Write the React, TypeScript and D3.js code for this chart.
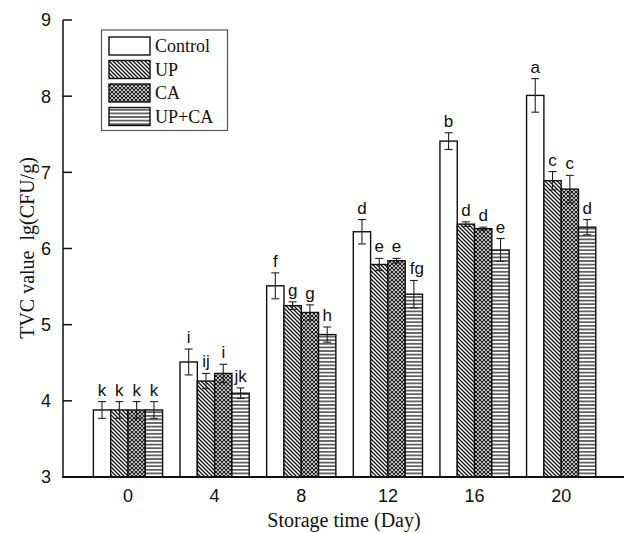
import React from "react";
import * as d3 from "d3";

const days = [0, 4, 8, 12, 16, 20];
const seriesNames = ["Control", "UP", "CA", "UP+CA"];
const controlVals = [3.88, 4.51, 5.51, 6.22, 7.41, 8.01];
const controlErr = [0.11, 0.17, 0.17, 0.16, 0.11, 0.22];
const upVals = [3.88, 4.26, 5.25, 5.79, 6.32, 6.89];
const upErr = [0.11, 0.1, 0.05, 0.08, 0.03, 0.12];
const caVals = [3.88, 4.36, 5.16, 5.84, 6.26, 6.78];
const caErr = [0.11, 0.12, 0.1, 0.03, 0.02, 0.18];
const upcaVals = [3.88, 4.1, 4.87, 5.4, 5.98, 6.28];
const upcaErr = [0.11, 0.07, 0.1, 0.18, 0.15, 0.1];
const controlLetters = ["k", "i", "f", "d", "b", "a"];
const upLetters = ["k", "ij", "g", "e", "d", "c"];
const caLetters = ["k", "i", "g", "e", "d", "c"];
const upcaLetters = ["k", "jk", "h", "fg", "e", "d"];
const yTicks = [3, 4, 5, 6, 7, 8, 9];

const W = 624;
const H = 533;

export default function App() {
  const x = d3.scaleLinear().domain([-3, 22.9]).range([63, 624]);
  const y = d3.scaleLinear().domain([3, 9]).range([477, 20]);
  const bw = 17.3;
  const fills = ["#fff", "url(#pUP)", "url(#pCA)", "url(#pUPCA)"];
  const vals = [controlVals, upVals, caVals, upcaVals];
  const errs = [controlErr, upErr, caErr, upcaErr];
  const letters = [controlLetters, upLetters, caLetters, upcaLetters];
  const serif = "'Liberation Serif', 'Times New Roman', serif";
  const sans = "'Liberation Sans', Arial, sans-serif";

  return (
    <svg
      width={W}
      height={H}
      style={{ position: "absolute", left: 0, top: 0, background: "#fff" }}
    >
      <defs>
        <pattern id="pUP" patternUnits="userSpaceOnUse" width={4} height={4}>
          <rect width={4} height={4} fill="#fff" />
          <path d="M-1,-1 L5,5 M3,-1 L5,1 M-1,3 L1,5" stroke="#111" strokeWidth={1.25} />
        </pattern>
        <pattern id="pCA" patternUnits="userSpaceOnUse" width={4} height={4}>
          <rect width={4} height={4} fill="#fff" />
          <path
            d="M-1,-1 L5,5 M3,-1 L5,1 M-1,3 L1,5 M-1,5 L5,-1 M-1,1 L1,-1 M3,5 L5,3"
            stroke="#111"
            strokeWidth={1.15}
          />
        </pattern>
        <pattern id="pUPCA" patternUnits="userSpaceOnUse" width={4} height={3.6}>
          <rect width={4} height={3.6} fill="#fff" />
          <line x1={0} x2={4} y1={1.8} y2={1.8} stroke="#111" strokeWidth={1.2} />
        </pattern>
      </defs>

      {/* bars */}
      {days.map((d, i) =>
        seriesNames.map((s, k) => {
          const left = x(d) + (k - 2) * bw;
          const v = vals[k][i];
          const e = errs[k][i];
          const cx = left + bw / 2;
          return (
            <g key={`${i}-${k}`}>
              <rect
                x={left}
                y={y(v)}
                width={bw}
                height={y(3) - y(v)}
                fill={fills[k]}
                stroke="#111"
                strokeWidth={1.4}
              />
              <line x1={cx} x2={cx} y1={y(v + e)} y2={y(v - e)} stroke="#222" strokeWidth={1.1} />
              <line x1={cx - 4} x2={cx + 4} y1={y(v + e)} y2={y(v + e)} stroke="#222" strokeWidth={1.1} />
              <line x1={cx - 4} x2={cx + 4} y1={y(v - e)} y2={y(v - e)} stroke="#222" strokeWidth={1.1} />
              <text
                x={cx + (letters[k][i] === "fg" ? 3 : 0)}
                y={y(v + e) - 6}
                textAnchor="middle"
                fontFamily={sans}
                fontSize={17}
                fill="#111"
              >
                {letters[k][i]}
              </text>
            </g>
          );
        })
      )}

      {/* axes */}
      <line x1={63} x2={63} y1={y(9)} y2={y(3)} stroke="#111" strokeWidth={1.5} />
      <line x1={62} x2={624} y1={y(3)} y2={y(3)} stroke="#111" strokeWidth={2} />
      {yTicks.map((t) => (
        <g key={t}>
          <line x1={63} x2={72} y1={y(t)} y2={y(t)} stroke="#111" strokeWidth={1.5} />
          <text
            x={51}
            y={y(t)}
            dy="0.36em"
            textAnchor="end"
            fontFamily={sans}
            fontSize={18}
            fill="#111"
          >
            {t}
          </text>
        </g>
      ))}
      {days.map((d) => (
        <text
          key={d}
          x={x(d)}
          y={502}
          textAnchor="middle"
          fontFamily={sans}
          fontSize={18}
          fill="#111"
        >
          {d}
        </text>
      ))}
      <text x={344} y={527} textAnchor="middle" fontFamily={serif} fontSize={20} fill="#111">
        Storage time (Day)
      </text>
      <text
        transform={`translate(34,${248}) rotate(-90)`}
        textAnchor="middle"
        fontFamily={serif}
        fontSize={20}
        fill="#111"
        style={{ whiteSpace: "pre" }}
      >
        {"TVC value  lg(CFU/g)"}
      </text>

      {/* legend */}
      <rect x={101.5} y={30} width={126} height={100.5} fill="#fff" stroke="#555" strokeWidth={1.2} />
      {seriesNames.map((s, k) => (
        <g key={s}>
          <rect
            x={109}
            y={37 + k * 23.5}
            width={41}
            height={18}
            fill={fills[k]}
            stroke="#111"
            strokeWidth={1.4}
          />
          <text
            x={155}
            y={46 + k * 23.5}
            dy="0.35em"
            fontFamily={serif}
            fontSize={18}
            fill="#111"
          >
            {s}
          </text>
        </g>
      ))}
    </svg>
  );
}
